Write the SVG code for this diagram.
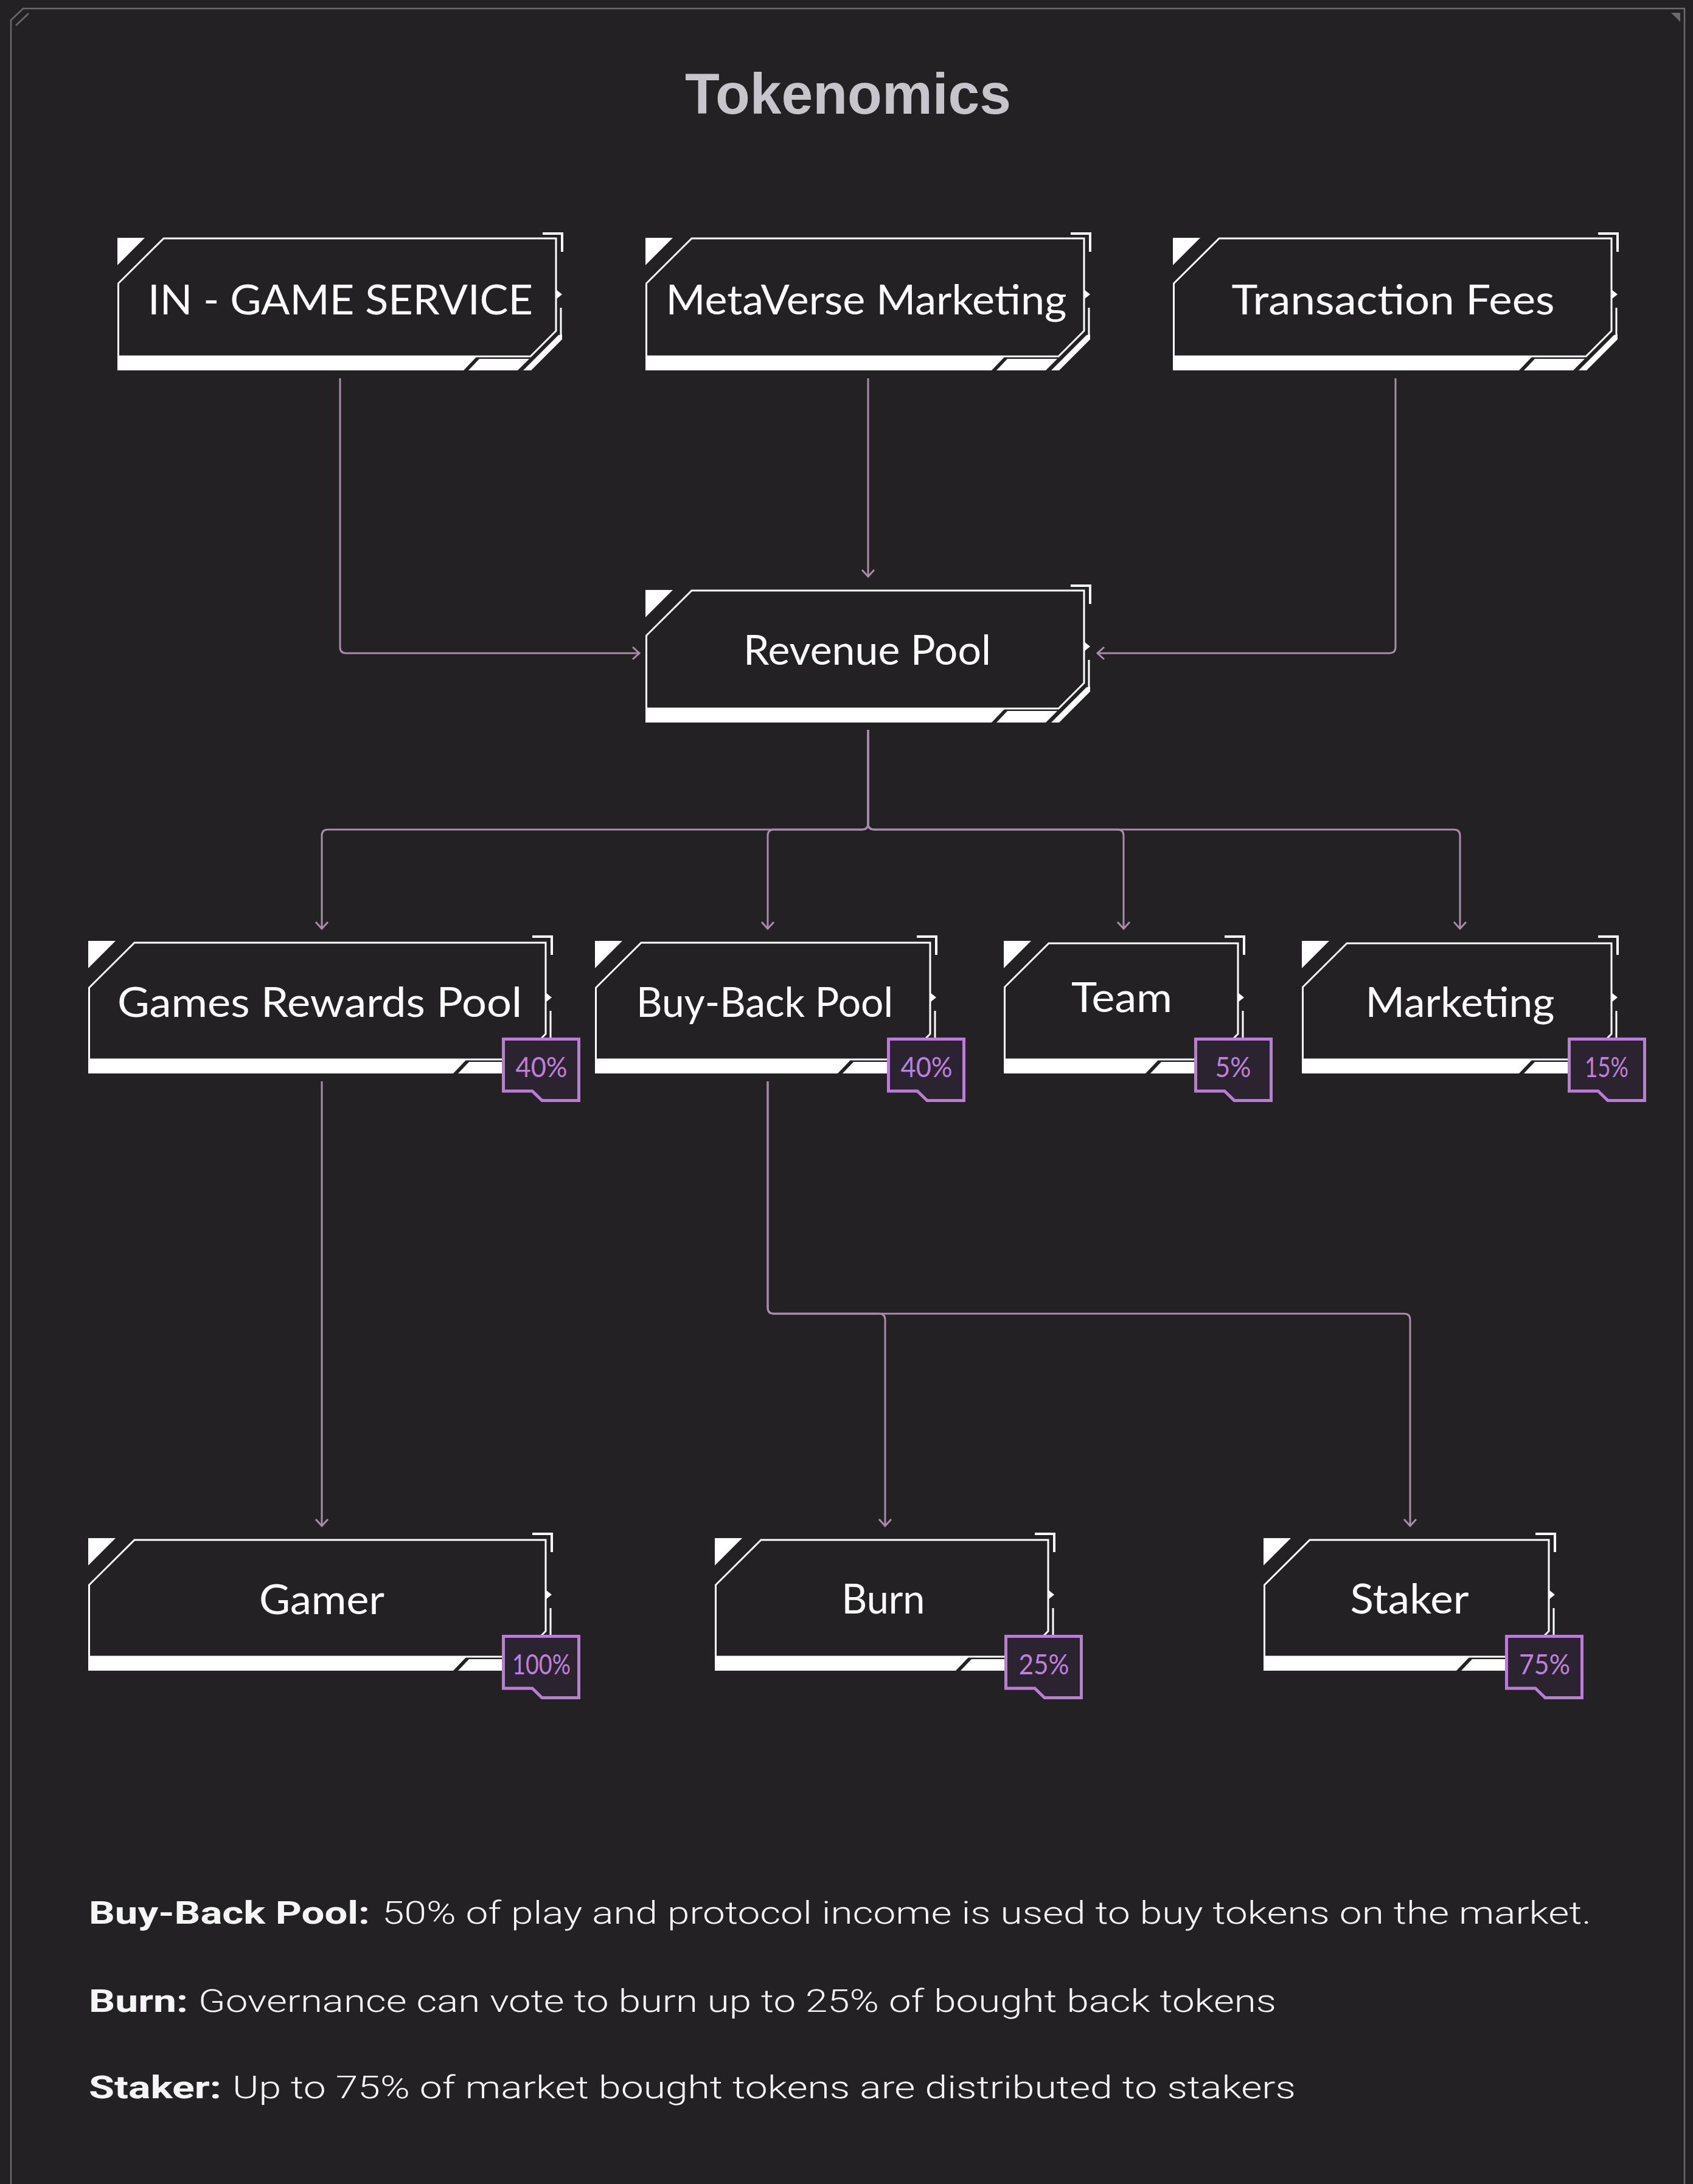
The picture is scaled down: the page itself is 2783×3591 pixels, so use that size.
<svg xmlns="http://www.w3.org/2000/svg" width="2783" height="3591" viewBox="0 0 2783 3591">
<defs>
<style>
.bg{fill:#232124}
.frame{fill:none;stroke:#6c6a70;stroke-width:2.5}
.ol{fill:none;stroke:#ffffff;stroke-width:3}
.wf{fill:#ffffff}
.br{fill:none;stroke:#ffffff;stroke-width:4}
.vl{stroke:#ffffff;stroke-width:3}
.lbl{font-family:Lato,"Open Sans",sans-serif;font-size:68px;fill:#ffffff;text-anchor:middle}
.badge{fill:#2b2430;stroke:#b97ed4;stroke-width:5}
.pct{font-family:Lato,"Open Sans",sans-serif;font-size:46px;fill:#bf80db;text-anchor:middle}
.conn{fill:none;stroke:#a88caa;stroke-width:3;marker-end:url(#arr)}
.title{font-family:"Liberation Sans",Arial,sans-serif;font-weight:bold;font-size:95px;fill:#c9c3cb;text-anchor:middle}
.nb{font-family:Roboto,"Liberation Sans",sans-serif;font-weight:bold;font-size:52px;fill:#f6f6f6}
.nr{font-family:Roboto,"Liberation Sans",sans-serif;font-weight:300;font-size:52px;fill:#f6f6f6}
</style>
<marker id="arr" markerUnits="userSpaceOnUse" viewBox="-15 -15 30 30" markerWidth="30" markerHeight="30" refX="0" refY="0" orient="auto" overflow="visible">
<path d="M-11,-10 L0,0 L-11,10" fill="none" stroke="#a88caa" stroke-width="3"/>
</marker>
</defs>
<rect class="bg" x="0" y="0" width="2783" height="3591"/>
<g id="frame">
<path class="frame" d="M18,3591 V33 L38,14 H2769 V3591"/>
<path class="frame" d="M26,42 L47,22"/>
<polygon points="2747,21 2762,21 2762,36" fill="#6c6a70"/>
</g>
<text id="title" class="title" x="1394" y="187" textLength="536" lengthAdjust="spacingAndGlyphs">Tokenomics</text>

<g id="connectors">
<path class="conn" d="M559,622 V1064 Q559,1074 569,1074 H1051"/>
<path class="conn" d="M1427,622 V948"/>
<path class="conn" d="M2294,622 V1064 Q2294,1074 2284,1074 H1804"/>
<path class="conn" d="M1427,1200 V1354 Q1427,1364 1417,1364 H539 Q529,1364 529,1374 V1527"/>
<path class="conn" d="M1427,1200 V1354 Q1427,1364 1417,1364 H1272 Q1262,1364 1262,1374 V1527"/>
<path class="conn" d="M1427,1200 V1354 Q1427,1364 1437,1364 H1837 Q1847,1364 1847,1374 V1527"/>
<path class="conn" d="M1427,1200 V1354 Q1427,1364 1437,1364 H2390 Q2400,1364 2400,1374 V1527"/>
<path class="conn" d="M529,1778 V2509"/>
<path class="conn" d="M1262,1778 V2150 Q1262,2160 1272,2160 H1445 Q1455,2160 1455,2170 V2509"/>
<path class="conn" d="M1262,1778 V2150 Q1262,2160 1272,2160 H2308 Q2318,2160 2318,2170 V2509"/>
</g>

<g id="in-game-service" transform="translate(193,382)">
<polygon class="wf" points="0,9 45,9 0,54"/>
<path class="ol" d="M76,10 H721 V162 L679,204 H1.5 V84 Z"/>
<polygon class="wf" points="0,205 590,205 569,227 0,227"/>
<polygon class="wf" points="595,208 677,208 658,227 577,227"/>
<polygon class="wf" points="731,168 731,176 680,227 667,227 725,169"/>
<line class="vl" x1="729" y1="124" x2="729" y2="170"/>
<path class="br" d="M699,2 H731 V32"/>
<polygon class="wf" points="721,94 731,102 721,110"/>
<text class="lbl" x="366.5" y="135" textLength="633" lengthAdjust="spacingAndGlyphs">IN - GAME SERVICE</text>
</g>

<g id="metaverse-marketing" transform="translate(1061,382)">
<polygon class="wf" points="0,9 45,9 0,54"/>
<path class="ol" d="M76,10 H721 V162 L679,204 H1.5 V84 Z"/>
<polygon class="wf" points="0,205 590,205 569,227 0,227"/>
<polygon class="wf" points="595,208 677,208 658,227 577,227"/>
<polygon class="wf" points="731,168 731,176 680,227 667,227 725,169"/>
<line class="vl" x1="729" y1="124" x2="729" y2="170"/>
<path class="br" d="M699,2 H731 V32"/>
<polygon class="wf" points="721,94 731,102 721,110"/>
<text class="lbl" x="363" y="135" textLength="659" lengthAdjust="spacingAndGlyphs">MetaVerse Marketing</text>
</g>

<g id="transaction-fees" transform="translate(1928,382)">
<polygon class="wf" points="0,9 45,9 0,54"/>
<path class="ol" d="M76,10 H721 V162 L679,204 H1.5 V84 Z"/>
<polygon class="wf" points="0,205 590,205 569,227 0,227"/>
<polygon class="wf" points="595,208 677,208 658,227 577,227"/>
<polygon class="wf" points="731,168 731,176 680,227 667,227 725,169"/>
<line class="vl" x1="729" y1="124" x2="729" y2="170"/>
<path class="br" d="M699,2 H731 V32"/>
<polygon class="wf" points="721,94 731,102 721,110"/>
<text class="lbl" x="362" y="135" textLength="531" lengthAdjust="spacingAndGlyphs">Transaction Fees</text>
</g>

<g id="revenue-pool" transform="translate(1061,961)">
<polygon class="wf" points="0,9 45,9 0,54"/>
<path class="ol" d="M76,10 H721 V162 L679,204 H1.5 V84 Z"/>
<polygon class="wf" points="0,205 590,205 569,227 0,227"/>
<polygon class="wf" points="595,208 677,208 658,227 577,227"/>
<polygon class="wf" points="731,168 731,176 680,227 667,227 725,169"/>
<line class="vl" x1="729" y1="124" x2="729" y2="170"/>
<path class="br" d="M699,2 H731 V32"/>
<polygon class="wf" points="721,94 731,102 721,110"/>
<text class="lbl" x="364.5" y="132" textLength="407" lengthAdjust="spacingAndGlyphs">Revenue Pool</text>
</g>

<g id="games-rewards-pool" transform="translate(145,1538)">
<polygon class="wf" points="0,9 45,9 0,54"/>
<path class="ol" d="M76,12 H752 V162 L710,204 H1.5 V86 Z"/>
<polygon class="wf" points="0,205 621,205 600,227 0,227"/>
<polygon class="wf" points="626,208 708,208 689,227 608,227"/>
<polygon class="wf" points="762,168 762,176 711,227 698,227 756,169"/>
<line class="vl" x1="760" y1="124" x2="760" y2="170"/>
<path class="br" d="M730,2 H762 V32"/>
<polygon class="wf" points="752,94 762,102 752,110"/>
<text class="lbl" x="380.5" y="134" textLength="665" lengthAdjust="spacingAndGlyphs">Games Rewards  Pool</text>
<path class="badge" d="M682.5,170.5 H806.5 V271.5 H746 L730,256 H682.5 Z"/>
<text class="pct" x="745" y="233" textLength="85" lengthAdjust="spacingAndGlyphs">40%</text>
</g>

<g id="buy-back-pool" transform="translate(978,1538)">
<polygon class="wf" points="0,9 45,9 0,54"/>
<path class="ol" d="M76,12 H551 V162 L509,204 H1.5 V86 Z"/>
<polygon class="wf" points="0,205 420,205 399,227 0,227"/>
<polygon class="wf" points="425,208 507,208 488,227 407,227"/>
<polygon class="wf" points="561,168 561,176 510,227 497,227 555,169"/>
<line class="vl" x1="559" y1="124" x2="559" y2="170"/>
<path class="br" d="M529,2 H561 V32"/>
<polygon class="wf" points="551,94 561,102 551,110"/>
<text class="lbl" x="279" y="134" textLength="422" lengthAdjust="spacingAndGlyphs">Buy-Back Pool</text>
<path class="badge" d="M482.5,170.5 H606.5 V271.5 H546 L530,256 H482.5 Z"/>
<text class="pct" x="545" y="233" textLength="85" lengthAdjust="spacingAndGlyphs">40%</text>
</g>

<g id="team" transform="translate(1650,1538)">
<polygon class="wf" points="0,9 45,9 0,54"/>
<path class="ol" d="M74,13 H385 V162 L343,204 H1.5 V85 Z"/>
<polygon class="wf" points="0,205 254,205 233,227 0,227"/>
<polygon class="wf" points="259,208 341,208 322,227 241,227"/>
<polygon class="wf" points="395,168 395,176 344,227 331,227 389,169"/>
<line class="vl" x1="393" y1="124" x2="393" y2="170"/>
<path class="br" d="M363,2 H395 V32"/>
<polygon class="wf" points="385,94 395,102 385,110"/>
<text class="lbl" x="194" y="126" textLength="166" lengthAdjust="spacingAndGlyphs">Team</text>
<path class="badge" d="M315.5,170.5 H439.5 V271.5 H379 L363,256 H315.5 Z"/>
<text class="pct" x="377" y="233" textLength="59" lengthAdjust="spacingAndGlyphs">5%</text>
</g>

<g id="marketing" transform="translate(2140,1538)">
<polygon class="wf" points="0,9 45,9 0,54"/>
<path class="ol" d="M74,13 H509 V162 L467,204 H1.5 V85 Z"/>
<polygon class="wf" points="0,205 378,205 357,227 0,227"/>
<polygon class="wf" points="383,208 465,208 446,227 365,227"/>
<polygon class="wf" points="519,168 519,176 468,227 455,227 513,169"/>
<line class="vl" x1="517" y1="124" x2="517" y2="170"/>
<path class="br" d="M487,2 H519 V32"/>
<polygon class="wf" points="509,94 519,102 509,110"/>
<text class="lbl" x="260" y="134" textLength="311" lengthAdjust="spacingAndGlyphs">Marketing</text>
<path class="badge" d="M439.5,170.5 H563.5 V271.5 H503 L487,256 H439.5 Z"/>
<text class="pct" x="501" y="233" textLength="72" lengthAdjust="spacingAndGlyphs">15%</text>
</g>

<g id="gamer" transform="translate(145,2520)">
<polygon class="wf" points="0,9 45,9 0,54"/>
<path class="ol" d="M76,12 H752 V162 L710,204 H1.5 V86 Z"/>
<polygon class="wf" points="0,205 621,205 600,227 0,227"/>
<polygon class="wf" points="626,208 708,208 689,227 608,227"/>
<polygon class="wf" points="762,168 762,176 711,227 698,227 756,169"/>
<line class="vl" x1="760" y1="124" x2="760" y2="170"/>
<path class="br" d="M730,2 H762 V32"/>
<polygon class="wf" points="752,94 762,102 752,110"/>
<text class="lbl" x="384" y="134" textLength="206" lengthAdjust="spacingAndGlyphs">Gamer</text>
<path class="badge" d="M682.5,170.5 H806.5 V271.5 H746 L730,256 H682.5 Z"/>
<text class="pct" x="745" y="233" textLength="96" lengthAdjust="spacingAndGlyphs">100%</text>
</g>

<g id="burn" transform="translate(1175,2520)">
<polygon class="wf" points="0,9 45,9 0,54"/>
<path class="ol" d="M76,12 H548 V162 L506,204 H1.5 V86 Z"/>
<polygon class="wf" points="0,205 417,205 396,227 0,227"/>
<polygon class="wf" points="422,208 504,208 485,227 404,227"/>
<polygon class="wf" points="558,168 558,176 507,227 494,227 552,169"/>
<line class="vl" x1="556" y1="124" x2="556" y2="170"/>
<path class="br" d="M526,2 H558 V32"/>
<polygon class="wf" points="548,94 558,102 548,110"/>
<text class="lbl" x="277" y="133" textLength="137" lengthAdjust="spacingAndGlyphs">Burn</text>
<path class="badge" d="M478.5,170.5 H602.5 V271.5 H542 L526,256 H478.5 Z"/>
<text class="pct" x="541" y="233" textLength="83" lengthAdjust="spacingAndGlyphs">25%</text>
</g>

<g id="staker" transform="translate(2077,2520)">
<polygon class="wf" points="0,9 45,9 0,54"/>
<path class="ol" d="M76,12 H469 V162 L427,204 H1.5 V86 Z"/>
<polygon class="wf" points="0,205 338,205 317,227 0,227"/>
<polygon class="wf" points="343,208 425,208 406,227 325,227"/>
<polygon class="wf" points="479,168 479,176 428,227 415,227 473,169"/>
<line class="vl" x1="477" y1="124" x2="477" y2="170"/>
<path class="br" d="M447,2 H479 V32"/>
<polygon class="wf" points="469,94 479,102 469,110"/>
<text class="lbl" x="240" y="133" textLength="195" lengthAdjust="spacingAndGlyphs">Staker</text>
<path class="badge" d="M399.5,170.5 H523.5 V271.5 H463 L447,256 H399.5 Z"/>
<text class="pct" x="462" y="233" textLength="84" lengthAdjust="spacingAndGlyphs">75%</text>
</g>

<g id="notes">
<text class="nb" x="146" y="3163" textLength="462" lengthAdjust="spacingAndGlyphs">Buy-Back Pool:</text>
<text class="nr" x="628" y="3163" textLength="1988" lengthAdjust="spacingAndGlyphs">50% of play and protocol income is used to buy tokens on the market.</text>
<text class="nb" x="146" y="3308" textLength="163" lengthAdjust="spacingAndGlyphs">Burn:</text>
<text class="nr" x="326" y="3308" textLength="1772" lengthAdjust="spacingAndGlyphs">Governance can vote to burn up to 25% of bought back tokens</text>
<text class="nb" x="146" y="3450" textLength="218" lengthAdjust="spacingAndGlyphs">Staker:</text>
<text class="nr" x="382" y="3450" textLength="1748" lengthAdjust="spacingAndGlyphs">Up to 75% of market bought tokens are distributed to stakers</text>
</g>
</svg>
